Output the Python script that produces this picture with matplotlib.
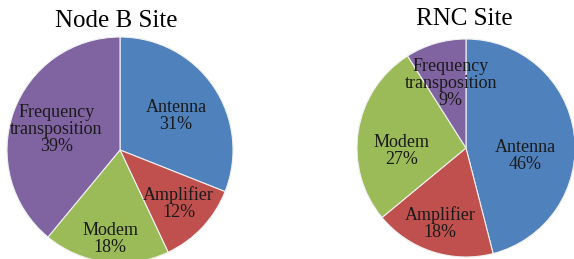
import numpy as np
import matplotlib.pyplot as plt

plt.rcParams["font.family"] = "serif"
plt.rcParams["font.serif"] = ["Liberation Serif", "DejaVu Serif"]

CATEGORIES = ["Antenna", "Amplifier", "Modem", "Frequency\ntransposition"]
COLORS = ["#4f81bd", "#c0504d", "#9bbb59", "#8064a2"]

NODE_B_SHARES = [31, 12, 18, 39]
RNC_SHARES = [46, 18, 27, 9]

# label placement (fraction of radius, angle tweak in degrees)
NODE_B_LABEL_R = [0.58, 0.70, 0.79, 0.59]
NODE_B_LABEL_DA = [-3, 1, 1, 2]
RNC_LABEL_R = [0.55, 0.73, 0.59, 0.61]
RNC_LABEL_DA = [-15, -1, 12, -3]


def draw_pie(ax, shares, label_r, label_da):
    wedges, _ = ax.pie(shares, colors=COLORS, startangle=90, counterclock=False,
                       wedgeprops={'edgecolor': '#f0f0f0', 'linewidth': 0.8})
    for w, name, share, r, da in zip(wedges, CATEGORIES, shares, label_r, label_da):
        ang = np.deg2rad((w.theta1 + w.theta2) / 2 + da)
        ax.text(r * np.cos(ang), r * np.sin(ang), f"{name}\n{share}%",
                ha='center', va='center', fontsize=13, color='#1a1a1a', linespacing=1.0)
    ax.set_xlim(-1, 1)
    ax.set_ylim(-1, 1)
    ax.set_aspect('equal')
    ax.axis('off')


fig = plt.figure(figsize=(5.74, 2.59), dpi=100)

ax1 = fig.add_axes([7 / 574, -4 / 259, 226 / 574, 226 / 259])
draw_pie(ax1, NODE_B_SHARES, NODE_B_LABEL_R, NODE_B_LABEL_DA)
fig.text(116 / 574, 1 - 21 / 259, "Node B Site", ha='center', va='center', fontsize=18)

ax2 = fig.add_axes([357 / 574, 2 / 259, 218 / 574, 218 / 259])
draw_pie(ax2, RNC_SHARES, RNC_LABEL_R, RNC_LABEL_DA)
fig.text(464 / 574, 1 - 19 / 259, "RNC Site", ha='center', va='center', fontsize=18)

fig.savefig("out.png", dpi=100)
